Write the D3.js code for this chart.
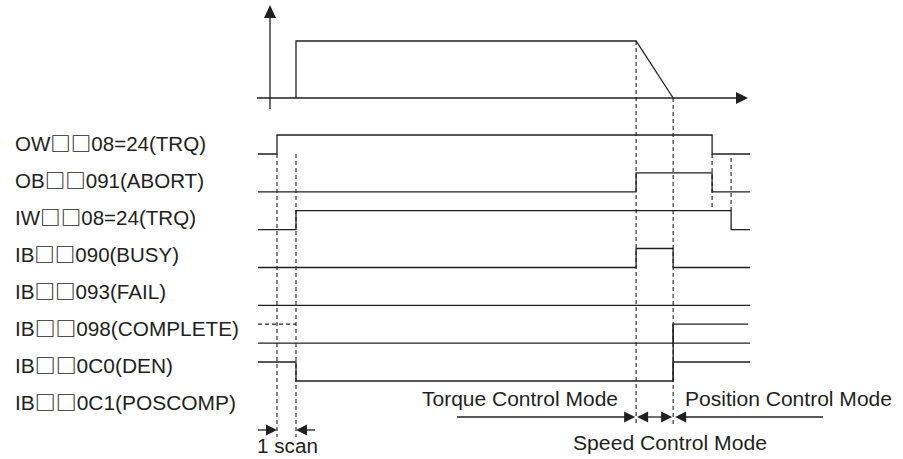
<!DOCTYPE html>
<html>
<head>
<meta charset="utf-8">
<script src="https://cdn.jsdelivr.net/npm/d3@7"></script>
<style>
  html, body { margin: 0; padding: 0; background: #fff; }
  svg { display: block; }
  text { font-family: "Liberation Sans", Arial, sans-serif; fill: #231f20; }
  tspan.box { font-family: "Noto Sans CJK JP", "Noto Sans CJK SC", "DejaVu Sans", sans-serif; font-weight: 700; }
</style>
</head>
<body>
<svg id="chart" width="903" height="459"></svg>
<script>
// ---------------- data ----------------
// time instants (units of one scan)
const tCmd = 1, tScan = 2, tDecel = 19.9, tStop = 21.85, tAbortOff = 23.9, tTrqOff = 24.9, tEnd = 25.9;

const signalLabels = [
  "OW\u25A1\u25A108=24(TRQ)",
  "OB\u25A1\u25A1091(ABORT)",
  "IW\u25A1\u25A108=24(TRQ)",
  "IB\u25A1\u25A1090(BUSY)",
  "IB\u25A1\u25A1093(FAIL)",
  "IB\u25A1\u25A1098(COMPLETE)",
  "IB\u25A1\u25A10C0(DEN)",
  "IB\u25A1\u25A10C1(POSCOMP)"
];
const labelWidths = [191, 189, 181, 164, 151, 224, 158, 221];

// step waveforms: [time, level]
const owTrq    = [[0,0],[tCmd,1],[tAbortOff,0],[tEnd,0]];
const obAbort  = [[0,0],[tDecel,1],[tAbortOff,0],[tEnd,0]];
const iwTrq    = [[0,0],[tScan,1],[tTrqOff,0],[tEnd,0]];
const ibBusy   = [[0,0],[tDecel,1],[tStop,0],[tEnd,0]];
const ibFail   = [[0,0],[tEnd,0]];
const ibCompleteLow  = [[0,0],[tEnd,0]];
const ibCompleteHigh = [[tStop,0],[tStop,1],[tEnd - 0.1,1]];
const ibCompleteUnknown = [[0,1],[tScan,1]];
const ibDen    = [[0,1],[tScan,0],[tStop,1],[tEnd,1]];

// speed profile in upper panel: [time, speed]
const speedProfile = [[tScan,0],[tScan,1],[tDecel,1],[tStop,0]];

// mode annotations
const modeLabels = ["Torque Control Mode", "Speed Control Mode", "Position Control Mode"];
const scanLabel = "1 scan";

// ---------------- drawing ----------------
const svg = d3.select("#chart");
const ink = "#231f20";

const x = d3.scaleLinear().domain([0, 26]).range([258, 752]);
const rowLow = d3.scaleLinear().domain([0, 1]).range([154, 191.83]); // row index -> low level y
const levelH = 19;
const labelBase = d3.scaleLinear().domain([0, 1]).range([150.5, 187.6]);
const speedY = d3.scaleLinear().domain([0, 1]).range([98, 41]);

const g = svg.append("g");

// ---- upper panel axes
const axisX0 = 270;
g.append("line").attr("x1", axisX0).attr("x2", axisX0).attr("y1", 109).attr("y2", 15)
  .attr("stroke", ink).attr("stroke-width", 1.3);
g.append("path").attr("d", `M${axisX0},5 L${axisX0-6},18 L${axisX0+6},18 Z`).attr("fill", ink);
g.append("line").attr("x1", 257).attr("x2", 740).attr("y1", speedY(0)).attr("y2", speedY(0))
  .attr("stroke", ink).attr("stroke-width", 1.3);
g.append("path").attr("d", `M748,${speedY(0)} L736,${speedY(0)-6} L736,${speedY(0)+6} Z`).attr("fill", ink);

g.append("path")
  .attr("d", d3.line().x(d => x(d[0])).y(d => speedY(d[1]))(speedProfile))
  .attr("fill", "none").attr("stroke", ink).attr("stroke-width", 1.3);

// ---- signal rows
function stepPath(points, row) {
  return d3.line().curve(d3.curveStepAfter)
    .x(d => x(d[0]))
    .y(d => rowLow(row) - d[1] * levelH)(points);
}
const waves = [
  { pts: owTrq, row: 0 },
  { pts: obAbort, row: 1 },
  { pts: iwTrq, row: 2 },
  { pts: ibBusy, row: 3 },
  { pts: ibFail, row: 4 },
  { pts: ibCompleteLow, row: 5 },
  { pts: ibCompleteHigh, row: 5 },
  { pts: ibDen, row: 6 }
];
g.selectAll("path.wave").data(waves).enter().append("path")
  .attr("class", "wave")
  .attr("d", d => stepPath(d.pts, d.row))
  .attr("fill", "none").attr("stroke", ink).attr("stroke-width", 1.3);

g.append("path").attr("d", stepPath(ibCompleteUnknown, 5))
  .attr("fill", "none").attr("stroke", ink).attr("stroke-width", 1.1)
  .attr("stroke-dasharray", "4,3");

// solid link of COMPLETE / DEN rise at stop
g.append("line").attr("x1", x(tStop)).attr("x2", x(tStop))
  .attr("y1", rowLow(5) - levelH).attr("y2", rowLow(6))
  .attr("stroke", ink).attr("stroke-width", 1.3);

// ---- dashed guides
const guides = [
  { t: tCmd, y1: rowLow(0), y2: 437 },
  { t: tScan, y1: rowLow(0), y2: 437 },
  { t: tDecel, y1: speedY(1), y2: 425 },
  { t: tStop, y1: speedY(0), y2: 425 },
  { t: tAbortOff, y1: rowLow(0), y2: rowLow(2) - levelH },
  { t: tTrqOff, y1: rowLow(0) + 4, y2: rowLow(2) - levelH }
];
g.selectAll("line.guide").data(guides).enter().append("line")
  .attr("class", "guide")
  .attr("x1", d => x(d.t)).attr("x2", d => x(d.t))
  .attr("y1", d => d.y1).attr("y2", d => d.y2)
  .attr("stroke", ink).attr("stroke-width", 1.1).attr("stroke-dasharray", "4,3");

// ---- labels (white squares set in a CJK font so they are full-width boxes)
const labelSel = g.selectAll("text.sig").data(signalLabels).enter().append("text")
  .attr("class", "sig")
  .attr("x", 15)
  .attr("y", (d, i) => labelBase(i))
  .attr("font-size", 19.5)
  .attr("textLength", (d, i) => labelWidths[i])
  .attr("lengthAdjust", "spacingAndGlyphs");
labelSel.each(function(d) {
  const t = d3.select(this);
  const parts = d.match(/\u25A1+|[^\u25A1]+/g);
  parts.forEach(p => {
    t.append("tspan")
      .attr("class", p[0] === "\u25A1" ? "box" : null)
      .text(p);
  });
});

// ---- arrows helper
function arrowHead(tipX, y, dir) { // dir=+1 pointing right, -1 pointing left
  const L = 11, H = 5.5;
  return `M${tipX},${y} L${tipX - dir*L},${y-H} L${tipX - dir*L},${y+H} Z`;
}
function hline(x1, x2, y) {
  g.append("line").attr("x1", x1).attr("x2", x2).attr("y1", y).attr("y2", y)
    .attr("stroke", ink).attr("stroke-width", 1.3);
}
function head(tipX, y, dir) {
  g.append("path").attr("d", arrowHead(tipX, y, dir)).attr("fill", ink);
}

// 1 scan arrows
const yScan = 430;
hline(258, x(tCmd) - 5, yScan); head(x(tCmd), yScan, 1);
hline(x(tScan) + 5, 315, yScan); head(x(tScan), yScan, -1);
g.append("text").attr("x", 257).attr("y", 453).attr("font-size", 20)
  .attr("textLength", 61).attr("lengthAdjust", "spacingAndGlyphs").text(scanLabel);

// mode arrows
const yMode = 417;
hline(457, x(tDecel) - 5, yMode); head(x(tDecel) - 1, yMode, 1);
hline(x(tDecel) + 6, x(tStop) - 6, yMode);
head(x(tDecel) + 1, yMode, -1); head(x(tStop) - 1, yMode, 1);
hline(x(tStop) + 6, 823, yMode); head(x(tStop) + 2, yMode, -1);

g.append("text").attr("x", 422).attr("y", 406).attr("font-size", 20.5)
  .attr("textLength", 196).attr("lengthAdjust", "spacingAndGlyphs").text(modeLabels[0]);
g.append("text").attr("x", 573).attr("y", 450).attr("font-size", 20.5)
  .attr("textLength", 194).attr("lengthAdjust", "spacingAndGlyphs").text(modeLabels[1]);
g.append("text").attr("x", 685).attr("y", 406).attr("font-size", 20.5)
  .attr("textLength", 207).attr("lengthAdjust", "spacingAndGlyphs").text(modeLabels[2]);
</script>
</body>
</html>
